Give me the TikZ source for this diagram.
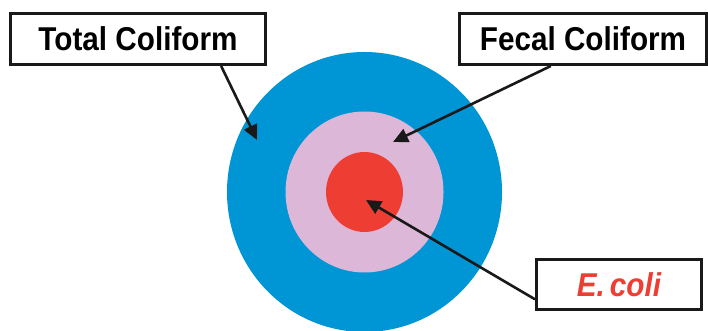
\documentclass[tikz,border=0pt]{standalone}
\usepackage{fontspec}
\setmainfont{Liberation Sans}
\usepackage{tikz}
\usepackage{xcolor}
\usetikzlibrary{arrows.meta}

\definecolor{outerblue}{RGB}{0,150,214}
\definecolor{midpink}{RGB}{221,183,216}
\definecolor{innerred}{RGB}{238,62,52}

\newcommand{\lbl}[1]{\scalebox{0.9}[1]{#1}}

\begin{document}
\begin{tikzpicture}[x=1pt, y=1pt,
    every node/.style={font=\fontsize{33}{33}\selectfont\bfseries},
    labelbox/.style={draw=black!90, line width=3pt, minimum height=51pt, inner sep=0pt},
    pointer/.style={draw=black!90, line width=2.6pt, -{Triangle[length=15pt, width=14pt]}}]
      \useasboundingbox (0,0) rectangle (708,331);
      % rings
      \fill[outerblue] (364.5,139) ellipse [x radius=137.5, y radius=140];
      \fill[midpink] (364.5,139) ellipse [x radius=79, y radius=80.5];
      \fill[innerred] (364.5,139) ellipse [x radius=38.5, y radius=40];
      % tips of the arrows
      \coordinate (totaltip) at (257,191);
      \coordinate (fecaltip) at (393,189);
      \coordinate (ecolitip) at (366,131);
      % labels
      \node[labelbox, minimum width=255pt] (total) at (138,292) {\lbl{Total Coliform}};
      \node[labelbox, minimum width=247pt] (fecal) at (583,292) {\lbl{Fecal Coliform}};
      \node[labelbox, minimum width=165pt, minimum height=50pt, text=innerred] (ecoli) at (619,46.5) {\lbl{\itshape E.\,coli}};
      % arrows
      \draw[pointer] (total.-18.6) -- (totaltip);
      \draw[pointer] (fecal.220) -- (fecaltip);
      \draw[pointer] (ecoli.190.5) -- (ecolitip);
    \end{tikzpicture}
\end{document}
